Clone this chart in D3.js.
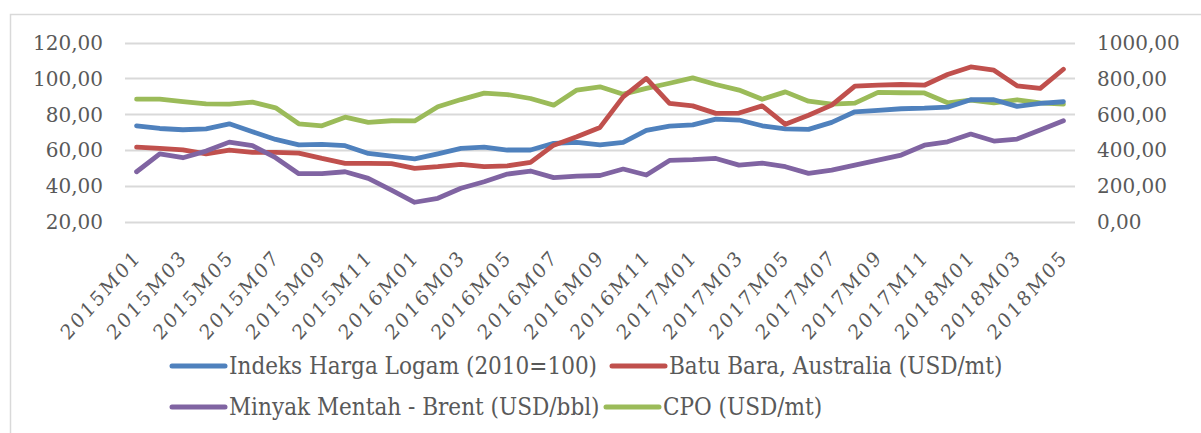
<!DOCTYPE html>
<html>
<head>
<meta charset="utf-8">
<script src="https://cdn.jsdelivr.net/npm/d3@7"></script>
<style>
  body { margin: 0; background: #fff; }
  svg text { font-family: "DejaVu Serif", serif; fill: #595959; }
</style>
</head>
<body>
<div id="chart"></div>
<script>
// months 2015M01 .. 2018M05
var months = [];
for (var yr = 2015; yr <= 2018; yr++) {
  for (var m = 1; m <= 12; m++) {
    if (yr == 2018 && m > 5) break;
    months.push(yr + "M" + (m < 10 ? "0" + m : m));
  }
}

var logam = [73.6,72.1,71.4,71.9,74.7,70.3,66.0,63.0,63.2,62.5,58.2,56.7,55.2,58.0,61.0,61.7,60.1,60.1,63.8,64.4,63.0,64.4,71.0,73.4,74.1,77.3,76.8,73.6,71.9,71.6,75.5,81.4,82.2,83.1,83.4,84.0,88.1,88.1,84.4,86.1,87.0];
var batubara = [61.7,61.0,60.2,58.0,60.1,58.8,58.8,58.4,55.4,52.7,52.7,52.5,49.9,50.8,52.1,50.8,51.3,53.2,62.8,67.5,72.7,89.7,100.0,86.1,84.7,80.5,80.7,84.7,74.4,79.5,85.1,95.7,96.2,96.6,96.2,102.2,106.4,104.6,95.9,94.4,105.1];
var brent = [48.0,58.0,55.8,59.5,64.5,62.5,55.8,46.9,47.0,48.0,44.3,37.8,31.0,33.2,38.8,42.4,46.7,48.4,44.7,45.6,45.9,49.5,46.2,54.3,54.7,55.4,51.7,52.8,50.8,47.1,48.9,51.7,54.5,57.3,62.8,64.7,69.0,65.1,66.2,71.2,76.4];
var cpo = [684,684,670,658,657,668,636,547,536,584,555,564,563,642,682,718,710,688,651,735,753,712,744,773,803,766,735,684,725,673,657,662,722,720,719,664,679,664,681,664,657];

var leftTicks = [20,40,60,80,100,120];
var rightTicks = [0,200,400,600,800,1000];

var series = [
  {name: "Indeks Harga Logam (2010=100)", values: logam, axis: "left", color: "#4f81bd"},
  {name: "Batu Bara, Australia (USD/mt)", values: batubara, axis: "left", color: "#c0504d"},
  {name: "Minyak Mentah - Brent (USD/bbl)", values: brent, axis: "left", color: "#8064a2"},
  {name: "CPO (USD/mt)", values: cpo, axis: "right", color: "#9bbb59"}
];

var width = 1201, height = 433;

var svg = d3.select("#chart").append("svg")
  .attr("width", width)
  .attr("height", height);

// chart frame
svg.append("rect")
  .attr("x", 10.5).attr("y", 14.5)
  .attr("width", 1200).attr("height", 430)
  .attr("fill", "none")
  .attr("stroke", "#d9d9d9")
  .attr("stroke-width", 1.5);

var x = d3.scalePoint().domain(months).range([125, 1075]).padding(0.5);
var yL = d3.scaleLinear().domain([20, 120]).range([222, 42.5]);
var yR = d3.scaleLinear().domain([0, 1000]).range([222, 42.5]);

var fmt = function(v){ return d3.format(".2f")(v).replace(".", ","); };

// gridlines
svg.append("g").selectAll("line")
  .data(leftTicks).enter().append("line")
  .attr("x1", 125).attr("x2", 1075)
  .attr("y1", function(d){ return Math.round(yL(d)) + 0.5; })
  .attr("y2", function(d){ return Math.round(yL(d)) + 0.5; })
  .style("stroke", "#d9d9d9")
  .style("stroke-width", "2px");

// left axis labels
svg.append("g").selectAll("text")
  .data(leftTicks).enter().append("text")
  .attr("x", 103)
  .attr("y", function(d){ return yL(d); })
  .attr("dy", "0.36em")
  .style("text-anchor", "end")
  .style("font-size", "20px")
  .text(fmt);

// right axis labels
svg.append("g").selectAll("text")
  .data(rightTicks).enter().append("text")
  .attr("x", 1097)
  .attr("y", function(d){ return yR(d); })
  .attr("dy", "0.36em")
  .style("text-anchor", "start")
  .style("font-size", "20px")
  .text(fmt);

// x labels every second month (slightly squeezed like the source image)
svg.append("g").selectAll("text")
  .data(months.filter(function(d, i){ return i % 2 == 0; }))
  .enter().append("text")
  .attr("transform", function(d){ return "translate(" + (x(d) + 1) + ",253) scale(0.89,1) rotate(-45)"; })
  .attr("dy", "0.35em")
  .style("text-anchor", "end")
  .style("font-size", "20.5px")
  .style("letter-spacing", "2.6px")
  .text(function(d){ return d; });

var line = function(s){
  var yy = s.axis == "left" ? yL : yR;
  return d3.line()
    .x(function(d, i){ return x(months[i]); })
    .y(function(d){ return yy(d); })(s.values);
};

var order = [series[3], series[0], series[1], series[2]];
svg.append("g").selectAll("path")
  .data(order).enter().append("path")
  .attr("d", line)
  .attr("fill", "none")
  .attr("stroke", function(d){ return d.color; })
  .attr("stroke-width", 4.8)
  .attr("stroke-linejoin", "round")
  .attr("stroke-linecap", "round");

// legend
var legendPos = [
  {x: 172, y: 366}, {x: 612, y: 366},
  {x: 172, y: 407}, {x: 606, y: 407}
];
var leg = svg.append("g").selectAll("g")
  .data(series).enter().append("g")
  .attr("transform", function(d, i){ return "translate(" + legendPos[i].x + "," + legendPos[i].y + ")"; });

leg.append("line")
  .attr("x1", 0).attr("x2", 53)
  .attr("y1", 0).attr("y2", 0)
  .attr("stroke", function(d){ return d.color; })
  .attr("stroke-width", 5)
  .attr("stroke-linecap", "round");

leg.append("text")
  .attr("x", 57)
  .attr("dy", "0.35em")
  .style("font-size", "24px")
  .style("font-stretch", "condensed")
  .text(function(d){ return d.name; });
</script>
</body>
</html>
